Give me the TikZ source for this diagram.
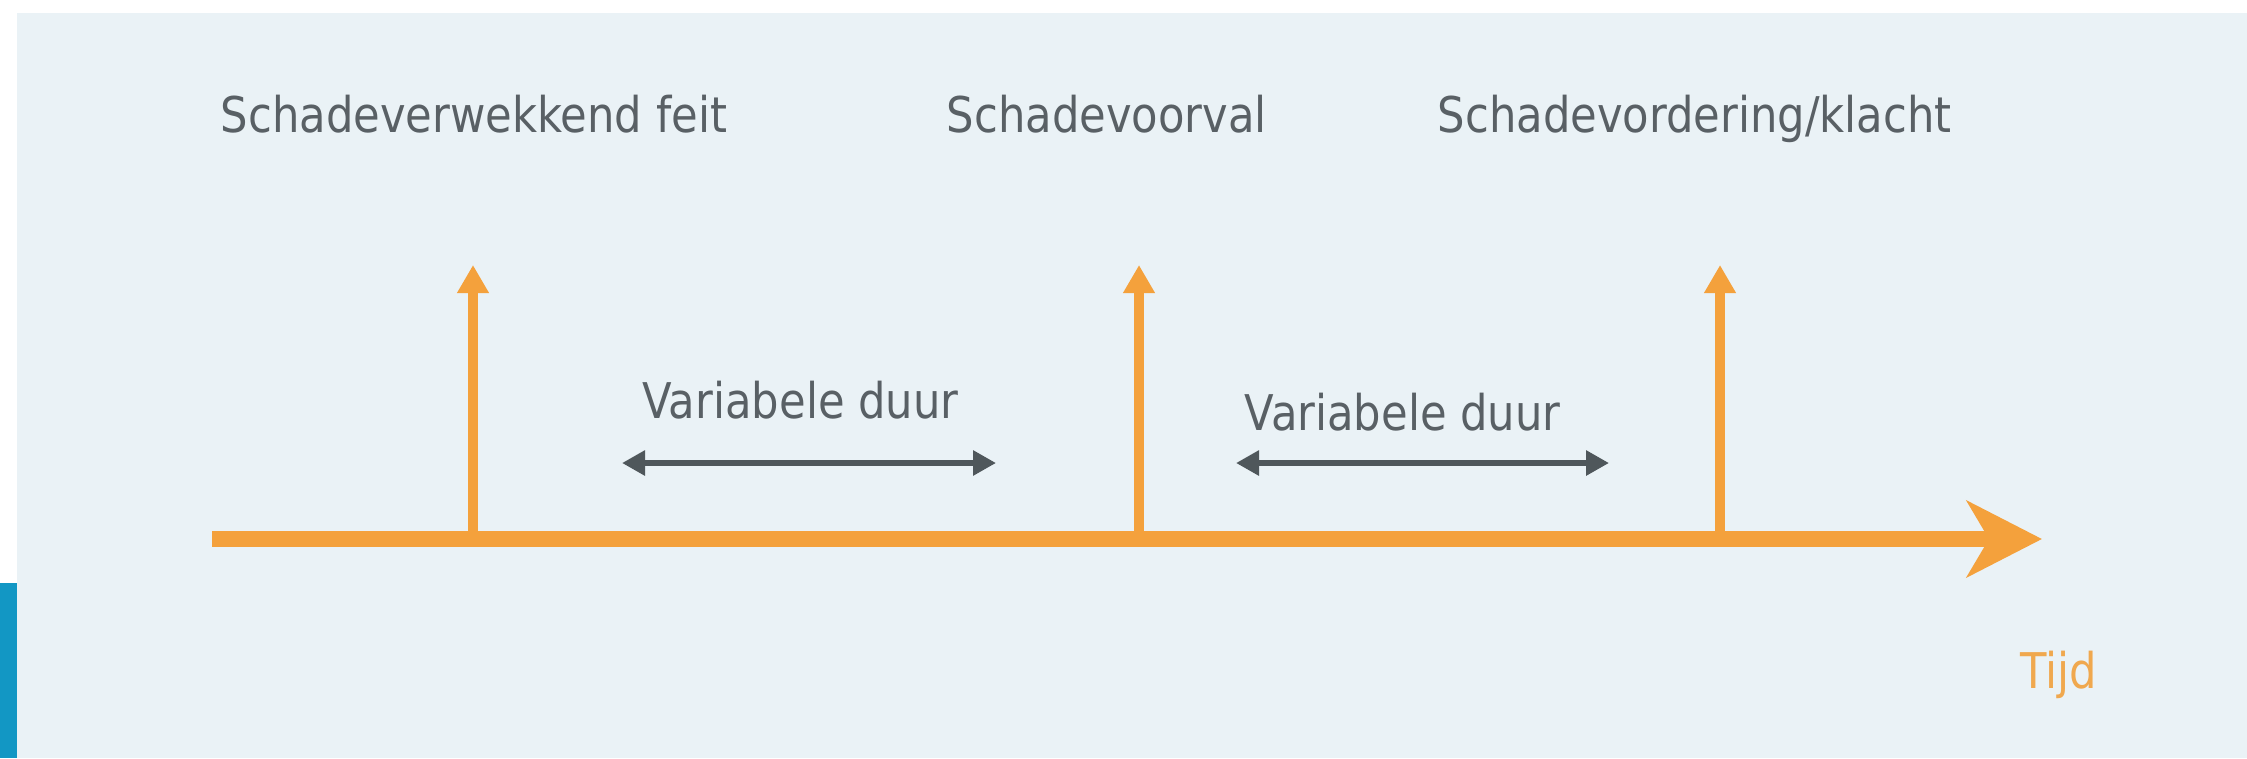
\documentclass[tikz,border=0pt]{standalone}
\usepackage{fontspec}
\setmainfont{DejaVu Sans}[FakeStretch=0.88]
\usetikzlibrary{arrows.meta}
\definecolor{bgblue}{HTML}{EAF2F6}
\definecolor{barblue}{HTML}{1297C4}
\definecolor{tlorange}{HTML}{F4A13C}
\definecolor{tijdorange}{HTML}{F0A84E}
\definecolor{txtgrey}{HTML}{596065}
\definecolor{durgrey}{HTML}{4F575B}
\tikzset{
    eventlabel/.style={anchor=base west, inner sep=0pt, text=txtgrey, font=\fontsize{14pt}{16pt}\selectfont},
    eventarrow/.style={draw=tlorange, line width=1mm, -{Triangle[length=2.8mm, width=3mm]}},
    durarrow/.style={draw=durgrey, line width=0.65mm, {Triangle[length=2.3mm, width=2.4mm]}-{Triangle[length=2.3mm, width=2.4mm]}}
}
\begin{document}
\begin{tikzpicture}
    \useasboundingbox (0, 0) rectangle (22.47, 7.58);
    \fill[white] (0, 0) rectangle (22.47, 7.58);
    \fill[bgblue] (0.17, 0) rectangle (22.47, 7.45);
    \fill[barblue] (0, 0) rectangle (0.17, 1.75);

        \coordinate (start) at (2.12, 2.19);
        \coordinate (end) at (20.42, 2.19);
        \draw[draw=tlorange, line width=1.6mm, -{Stealth[length=7.5mm, width=7.6mm, inset=2.2mm]}] (start) -- (end);

        \coordinate (feit) at (4.73, 2.19);
        \coordinate (feittop) at (4.73, 4.93);
        \coordinate (voorval) at (11.39, 2.19);
        \coordinate (voorvaltop) at (11.39, 4.93);
        \coordinate (klacht) at (17.20, 2.19);
        \coordinate (klachttop) at (17.20, 4.93);
            \draw[eventarrow] (feit) -- (feittop);
            \draw[eventarrow] (voorval) -- (voorvaltop);
            \draw[eventarrow] (klacht) -- (klachttop);

        \coordinate (duura) at (6.22, 2.95);
        \coordinate (duurb) at (9.96, 2.95);
        \coordinate (duurc) at (12.36, 2.95);
        \coordinate (duurd) at (16.09, 2.95);
            \draw[durarrow] (duura) -- (duurb);
            \draw[durarrow] (duurc) -- (duurd);

        \node[eventlabel] (lfeit) at (2.20, 6.26){Schadeverwekkend feit};
        \node[eventlabel] (lvoorval) at (9.46, 6.26){Schadevoorval};
        \node[eventlabel] (lklacht) at (14.37, 6.26){Schadevordering/klacht};
        \node[eventlabel] (lduur1) at (6.42, 3.40){Variabele duur};
        \node[eventlabel] (lduur2) at (12.44, 3.28){Variabele duur};
        \node[eventlabel, text=tijdorange] (ltijd) at (20.20, 0.70){Tijd};
\end{tikzpicture}
\end{document}
